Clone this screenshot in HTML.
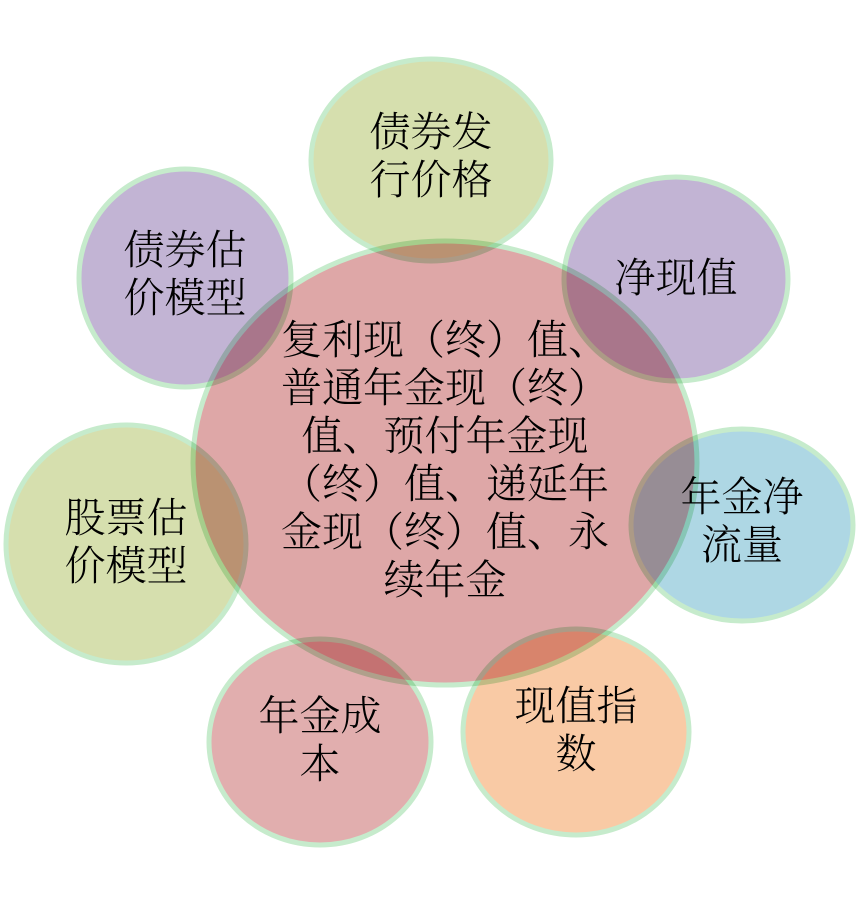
<!DOCTYPE html>
<html><head><meta charset="utf-8"><style>
html,body{margin:0;padding:0;background:#fff;}
svg{display:block;}
text{font-family:"Liberation Serif","Noto Serif CJK SC",serif;font-size:41px;font-weight:300;fill:#000;text-anchor:middle;}
.s{mix-blend-mode:multiply;}
</style></head><body>
<svg width="858" height="921" viewBox="0 0 858 921" xmlns="http://www.w3.org/2000/svg">
<g stroke="#c6ebcc" stroke-width="5">
<ellipse cx="445" cy="463" rx="252" ry="222" fill="#dea7a7"/>
<g class="s">
<ellipse cx="431" cy="160" rx="120" ry="101" fill="#d2dca7" fill-opacity="0.92"/>
<ellipse cx="676" cy="279" rx="112" ry="102" fill="#bdaed0" fill-opacity="0.92"/>
<ellipse cx="185" cy="278" rx="106" ry="109" fill="#bdaed0" fill-opacity="0.92"/>
<ellipse cx="126" cy="544" rx="120" ry="119" fill="#d2dca7" fill-opacity="0.92"/>
<ellipse cx="742" cy="525" rx="111" ry="96" fill="#a7d4e2" fill-opacity="0.92"/>
<ellipse cx="576" cy="732" rx="113" ry="103" fill="#f9c69d" fill-opacity="0.92"/>
<ellipse cx="320" cy="742" rx="111" ry="103" fill="#dea7a7" fill-opacity="0.92"/>
</g>
</g>
<text x="445" y="354">复利现（终）值、</text>
<text x="445" y="402">普通年金现（终）</text>
<text x="445" y="450">值、预付年金现</text>
<text x="445" y="498">（终）值、递延年</text>
<text x="445" y="546">金现（终）值、永</text>
<text x="445" y="594">续年金</text>
<text x="431" y="146">债券发</text>
<text x="431" y="194">行价格</text>
<text x="676" y="292">净现值</text>
<text x="185" y="264">债券估</text>
<text x="185" y="312">价模型</text>
<text x="126" y="532">股票估</text>
<text x="126" y="580">价模型</text>
<text x="742" y="511">年金净</text>
<text x="742" y="559">流量</text>
<text x="576" y="720">现值指</text>
<text x="576" y="768">数</text>
<text x="320" y="730">年金成</text>
<text x="320" y="778">本</text>
</svg>
</body></html>
